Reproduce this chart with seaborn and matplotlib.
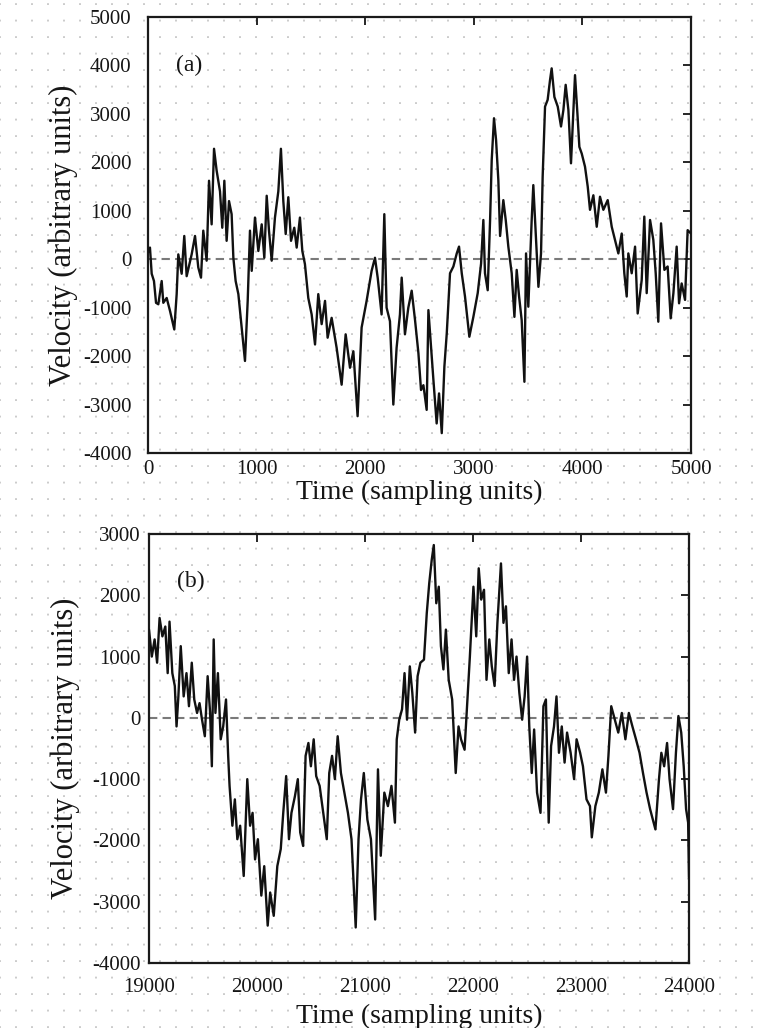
import numpy as np
import pandas as pd
import matplotlib
matplotlib.use("Agg")
import matplotlib.pyplot as plt
from matplotlib.ticker import MultipleLocator, FixedLocator
import seaborn as sns

# ---------------- data ----------------
time_a = [0, 18, 34, 55, 74, 95, 126, 141, 172, 203, 242, 264, 279, 310, 334, 356, 402, 433,
          463, 488, 509, 540, 562, 586, 608, 632, 663, 684, 703, 724, 746, 770, 786, 807,
          832, 862, 893, 918, 939, 955, 985, 1016, 1047, 1071, 1093, 1114, 1139, 1169, 1200,
          1224, 1246, 1268, 1292, 1317, 1347, 1369, 1399, 1421, 1445, 1476, 1507, 1538, 1568,
          1599, 1630, 1654, 1691, 1737, 1783, 1820, 1860, 1891, 1930, 1967, 2013, 2059, 2090,
          2115, 2151, 2176, 2197, 2228, 2259, 2289, 2320, 2336, 2366, 2397, 2428, 2459, 2490,
          2514, 2536, 2566, 2582, 2606, 2628, 2658, 2680, 2705, 2729, 2751, 2781, 2812, 2843,
          2864, 2889, 2919, 2959, 2996, 3036, 3067, 3088, 3103, 3128, 3150, 3165, 3186, 3205,
          3226, 3242, 3272, 3294, 3318, 3349, 3374, 3395, 3417, 3441, 3466, 3481, 3502, 3533,
          3548, 3570, 3595, 3619, 3634, 3656, 3680, 3702, 3717, 3742, 3773, 3803, 3825, 3846,
          3871, 3895, 3917, 3932, 3954, 3972, 3994, 4024, 4049, 4070, 4101, 4132, 4162, 4193,
          4233, 4270, 4300, 4331, 4362, 4386, 4408, 4423, 4454, 4485, 4509, 4546, 4570, 4592,
          4623, 4653, 4675, 4699, 4724, 4755, 4785, 4813, 4838, 4868, 4890, 4914, 4945, 4969,
          5000]
vel_a = [150, 240, -300, -450, -900, -930, -450, -900, -800, -1070, -1450, -720, 100, -300,
         480, -350, 100, 480, -170, -380, 590, -30, 1620, 720, 2280, 1830, 1400, 650, 1620,
         380, 1200, 930, 30, -450, -720, -1400, -2100, -860, 590, -240, 860, 170, 720, 30,
         1310, 590, -30, 860, 1400, 2280, 1200, 520, 1280, 380, 650, 240, 860, 170, -100,
         -800, -1140, -1760, -720, -1340, -860, -1620, -1210, -1830, -2590, -1550, -2240,
         -1900, -3240, -1410, -860, -240, 30, -380, -1140, 930, -1000, -1280, -3000, -1830,
         -1140, -380, -1550, -1000, -650, -1260, -1940, -2700, -2600, -3110, -1050, -1800,
         -2490, -3390, -2770, -3590, -2220, -1530, -290, -150, 120, 260, -290, -770, -1600,
         -1190, -700, -90, 810, -290, -640, 810, 2050, 2910, 2460, 1630, 480, 1220, 810, 260,
         -290, -1190, -220, -770, -1260, -2530, 120, -980, 810, 1530, 530, -570, 120, 1700,
         3150, 3290, 3700, 3940, 3350, 3150, 2740, 3080, 3600, 3080, 1980, 3080, 3800, 3010,
         2320, 2180, 1910, 1500, 1020, 1320, 670, 1290, 1020, 1220, 670, 400, 120, 530, -290,
         -770, 120, -290, 260, -1120, -430, 880, -700, 810, 400, -290, -1290, 740, -220, -150,
         -1220, -700, 260, -910, -500, -840, 600, 530]

time_b = [19000, 19026, 19052, 19075, 19098, 19124, 19151, 19173, 19190, 19216, 19239, 19255,
          19272, 19294, 19321, 19347, 19370, 19396, 19419, 19445, 19468, 19491, 19517, 19543,
          19566, 19582, 19599, 19615, 19638, 19664, 19687, 19713, 19733, 19746, 19772, 19795,
          19818, 19844, 19877, 19910, 19936, 19959, 19982, 20008, 20040, 20067, 20099, 20122,
          20155, 20188, 20220, 20243, 20270, 20296, 20319, 20351, 20378, 20400, 20427, 20450,
          20476, 20499, 20525, 20548, 20580, 20613, 20646, 20669, 20695, 20721, 20747, 20777,
          20809, 20842, 20875, 20914, 20940, 20963, 20989, 21022, 21055, 21094, 21120, 21146,
          21179, 21212, 21245, 21277, 21294, 21317, 21343, 21366, 21389, 21415, 21438, 21464,
          21487, 21513, 21546, 21572, 21595, 21618, 21637, 21660, 21683, 21703, 21726, 21749,
          21775, 21807, 21840, 21866, 21889, 21922, 21945, 21971, 22004, 22030, 22053, 22076,
          22102, 22125, 22151, 22174, 22200, 22226, 22259, 22282, 22305, 22331, 22357, 22380,
          22403, 22429, 22455, 22478, 22501, 22521, 22544, 22566, 22593, 22625, 22652, 22675,
          22701, 22723, 22750, 22773, 22796, 22822, 22848, 22871, 22904, 22936, 22959, 22992,
          23018, 23051, 23083, 23100, 23133, 23165, 23198, 23231, 23254, 23280, 23313, 23345,
          23378, 23411, 23443, 23476, 23509, 23542, 23574, 23607, 23640, 23689, 23722, 23744,
          23770, 23797, 23820, 23852, 23879, 23902, 23928, 23951, 23973, 23992, 24000]
vel_b = [1440, 1000, 1280, 900, 1630, 1330, 1490, 730, 1570, 730, 520, -140, 350, 1170, 350,
         730, 190, 900, 300, 80, 240, -30, -300, 680, 80, -790, 1280, 80, 730, -350, -140, 300,
         -620, -1110, -1760, -1330, -1980, -1760, -2580, -1000, -1760, -1550, -2310, -1980,
         -2900, -2420, -3390, -2850, -3230, -2420, -2140, -1550, -950, -1980, -1550, -1280,
         -1000, -1870, -2090, -620, -410, -790, -350, -950, -1110, -1550, -1980, -900, -620,
         -1000, -300, -900, -1220, -1550, -1980, -3420, -1980, -1330, -900, -1660, -1980,
         -3290, -840, -2250, -1220, -1440, -1110, -1710, -350, -30, 140, 730, -30, 840, 410,
         -240, 680, 900, 950, 1710, 2200, 2580, 2820, 1870, 2140, 1170, 790, 1440, 620, 300,
         -900, -140, -350, -520, 190, 1000, 2140, 1330, 2440, 1930, 2090, 620, 1280, 840, 520,
         1550, 2520, 1550, 1820, 730, 1280, 620, 1000, 410, -30, 350, 1000, -140, -900, -190,
         -1220, -1550, 190, 300, -1710, -460, -140, 350, -570, -140, -730, -240, -570, -1000,
         -350, -570, -790, -1330, -1440, -1950, -1440, -1220, -840, -1220, -620, 190, -30,
         -240, 80, -350, 80, -140, -350, -570, -900, -1220, -1490, -1820, -1000, -570, -790,
         -410, -1000, -1490, -570, 30, -240, -790, -1490, -1710, -2600]

panel_labels = ["(a)", "(b)"]
x_label = "Time (sampling units)"
y_label = "Velocity (arbitrary units)"
xticks_a = [0, 1000, 2000, 3000, 4000, 5000]
yticks_a = [-4000, -3000, -2000, -1000, 0, 1000, 2000, 3000, 4000, 5000]
xticks_b = [19000, 20000, 21000, 22000, 23000, 24000]
yticks_b = [-4000, -3000, -2000, -1000, 0, 1000, 2000, 3000]

# ---------------- style ----------------
sns.set_theme(style="white")
plt.rcParams['font.family'] = ['Liberation Serif', 'DejaVu Serif']
plt.rcParams['axes.unicode_minus'] = False

W, H = 765, 1028
fig = plt.figure(figsize=(W / 100, H / 100), dpi=100)
fig.patch.set_facecolor("white")

# faint dotted background texture of the scanned page
bg = fig.add_axes([0, 0, 1, 1], zorder=-10)
bg.set_xlim(0, W)
bg.set_ylim(0, H)
bg.xaxis.set_major_locator(MultipleLocator(16))
bg.grid(axis="x", color="#bdbdbd", linestyle=(0, (1.2, 9.6)), lw=1.1)
bg.grid(axis="y", visible=False)
bg.tick_params(length=0, labelbottom=False, labelleft=False)
for s in bg.spines.values():
    s.set_visible(False)
bg.set_facecolor("white")

ax_a = fig.add_axes([148 / W, 1 - 453 / H, 543 / W, 436 / H])
ax_b = fig.add_axes([149 / W, 1 - 963 / H, 540 / W, 429 / H])

specs = [
    (ax_a, time_a, vel_a, xticks_a, yticks_a, (0, 5000), (-4000, 5000), panel_labels[0],
     -0.062, 12, 5),
    (ax_b, time_b, vel_b, xticks_b, yticks_b, (19000, 24000), (-4000, 3000), panel_labels[1],
     -0.095, 6, 11),
]

for ax, t, v, xt, yt, xl, yl, lab, xlab_y, ypad, xpad in specs:
    ax.set_facecolor("none")
    df = pd.DataFrame({"t": t, "v": v})
    sns.lineplot(data=df, x="t", y="v", ax=ax, color="#111111", lw=1.7,
                 estimator=None, sort=False, zorder=3)
    ax.axhline(0, color="#7a7a7a", ls=(0, (4, 2.5)), lw=1.5, zorder=2)
    ax.set_xlim(*xl)
    ax.set_ylim(*yl)
    ax.xaxis.set_major_locator(FixedLocator(xt))
    ax.yaxis.set_major_locator(FixedLocator(yt))
    ax.set_xticklabels([str(x) for x in xt])
    ax.set_yticklabels([str(y) for y in yt])
    ax.tick_params(direction="in", length=6, width=1.3, top=True, right=True,
                   labelsize=15, colors="#151515")
    ax.tick_params(axis="y", pad=ypad)
    ax.tick_params(axis="x", pad=xpad)
    for s in ax.spines.values():
        s.set_linewidth(1.6)
        s.set_color("#1a1a1a")
        s.set_visible(True)
    ax.set_xlabel(x_label, fontsize=20, color="#151515")
    ax.set_ylabel(y_label, fontsize=22, color="#151515")
    ax.xaxis.set_label_coords(0.5, xlab_y)
    ax.yaxis.set_label_coords(-0.128, 0.5)
    ax.text(0.052, 0.89, lab, transform=ax.transAxes, fontsize=17,
            ha="left", va="center", color="#151515")

fig.savefig("out.png", dpi=100, facecolor="white")
